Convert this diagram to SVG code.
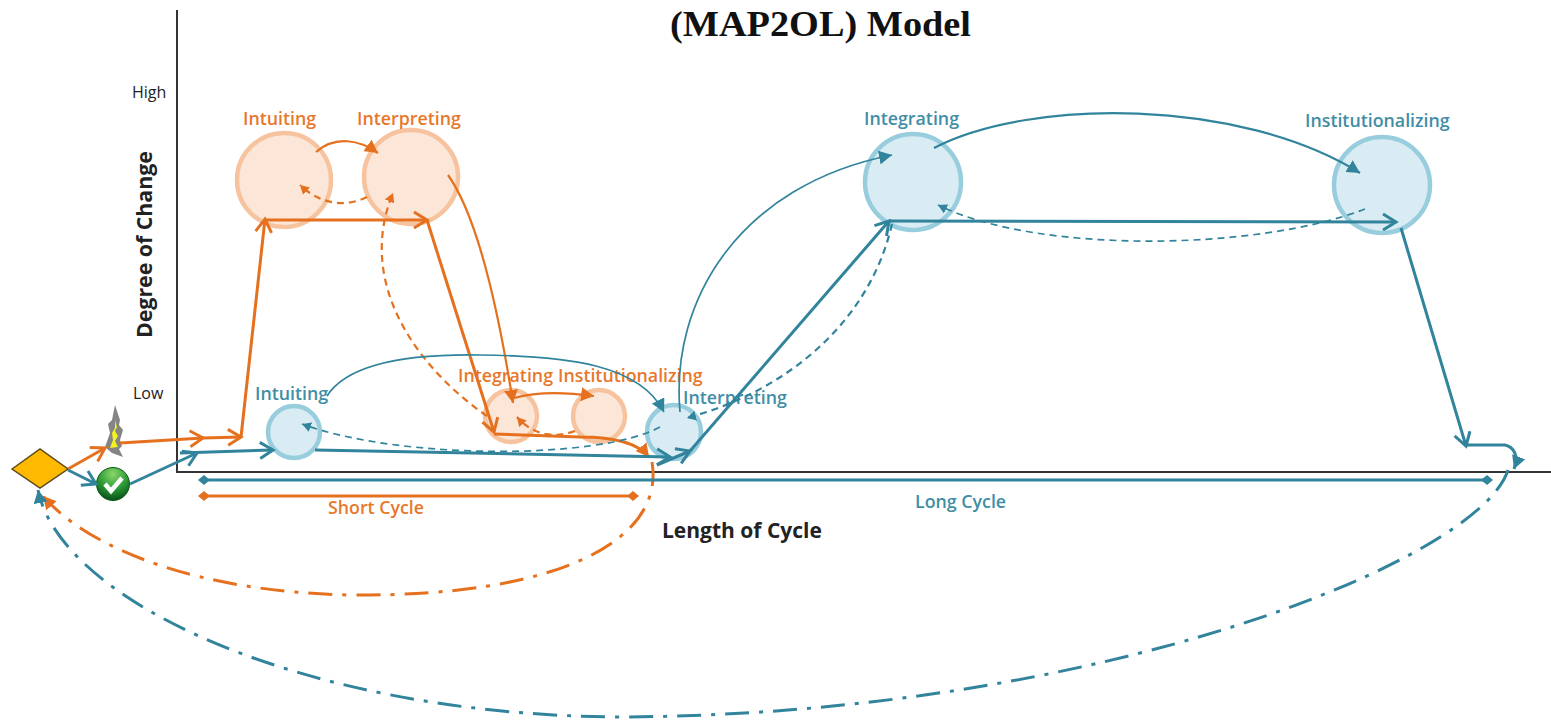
<svg xmlns="http://www.w3.org/2000/svg" width="1551" height="720" viewBox="0 0 1551 720">
<style>
text{font-family:"Open Sans","Noto Sans","Liberation Sans",sans-serif;font-weight:600}
.o{fill:#e7782b}.t{fill:#3f8ea6}.k{fill:#222}
.lbl{font-size:17.800px}
.co{fill:#fbe6d8;stroke:#f6c39e;stroke-width:4.500}
.cb{fill:#d9ecf3;stroke:#98cddd;stroke-width:4.500}
#connectors path{fill:none;stroke-linecap:butt;stroke-linejoin:round}
.so{stroke:#e5711f}.st{stroke:#31849b}
.w3{stroke-width:3}.w2{stroke-width:2.200}.w15{stroke-width:1.700}
.d{stroke-dasharray:7 5}.dd{stroke-dasharray:24 10 4 10;stroke-width:3}
</style>
<defs>
<marker id="oa" markerWidth="18" markerHeight="20" refX="15" refY="10" orient="auto" markerUnits="userSpaceOnUse"><path d="M2 2 L15 10 L2 18" fill="none" stroke="#e5711f" stroke-width="3"/></marker>
<marker id="ta" markerWidth="18" markerHeight="20" refX="15" refY="10" orient="auto" markerUnits="userSpaceOnUse"><path d="M2 2 L15 10 L2 18" fill="none" stroke="#31849b" stroke-width="3"/></marker>
<marker id="of" markerWidth="14" markerHeight="14" refX="13" refY="7" orient="auto" markerUnits="userSpaceOnUse"><path d="M0 0 L13 7 L0 14 Z" fill="#e5711f"/></marker>
<marker id="tf" markerWidth="14" markerHeight="14" refX="13" refY="7" orient="auto" markerUnits="userSpaceOnUse"><path d="M0 0 L13 7 L0 14 Z" fill="#31849b"/></marker>
<marker id="ofs" markerWidth="10" markerHeight="10" refX="9" refY="5" orient="auto" markerUnits="userSpaceOnUse"><path d="M0 0 L9 5 L0 10 Z" fill="#e5711f"/></marker>
<marker id="tfs" markerWidth="10" markerHeight="10" refX="9" refY="5" orient="auto" markerUnits="userSpaceOnUse"><path d="M0 0 L9 5 L0 10 Z" fill="#31849b"/></marker>
<marker id="od" markerWidth="12" markerHeight="12" refX="6" refY="6" orient="auto" markerUnits="userSpaceOnUse"><path d="M0 6 L6 1 L12 6 L6 11 Z" fill="#e5711f"/></marker>
<marker id="td" markerWidth="12" markerHeight="12" refX="6" refY="6" orient="auto" markerUnits="userSpaceOnUse"><path d="M0 6 L6 1 L12 6 L6 11 Z" fill="#31849b"/></marker>
<radialGradient id="g" cx="50%" cy="20%" r="75%"><stop offset="0" stop-color="#8ad66a"/><stop offset="0.6" stop-color="#2a9a36"/><stop offset="1" stop-color="#0c5a1c"/></radialGradient>
</defs>
<text x="670" y="36" textLength="301" lengthAdjust="spacingAndGlyphs" style="font-family:'Liberation Serif',serif;font-weight:700;font-size:35px" fill="#111">(MAP2OL) Model</text>
<g id="axes" fill="none" stroke="#333" stroke-width="2">
<path d="M177 10 V472 H1551"/>
</g>
<text class="k" x="132" y="98" style="font-size:16px;font-weight:400">High</text>
<text class="k" x="133" y="399" style="font-size:16px;font-weight:400">Low</text>
<text class="k" transform="translate(152 338) rotate(-90)" style="font-size:21.300px;font-weight:700">Degree of Change</text>
<text class="k" x="662" y="538" style="font-size:21px;font-weight:700">Length of Cycle</text>

<g id="node-o-intuiting-high"><circle class="co" cx="284" cy="180" r="47"/><text class="o lbl" x="243" y="125">Intuiting</text></g>
<g id="node-o-interpreting-high"><circle class="co" cx="411" cy="177" r="47"/><text class="o lbl" x="357" y="125">Interpreting</text></g>
<g id="node-o-integrating-low"><circle class="co" cx="511" cy="416" r="26"/><text class="o lbl" x="458" y="382">Integrating</text></g>
<g id="node-o-institutionalizing-low"><circle class="co" cx="599" cy="416" r="26"/><text class="o lbl" x="558" y="382">Institutionalizing</text></g>
<g id="node-b-intuiting-low"><circle class="cb" cx="294" cy="432" r="26"/><text class="t lbl" x="255" y="400">Intuiting</text></g>
<g id="node-b-interpreting-low"><circle class="cb" cx="674" cy="432" r="27"/><text class="t lbl" x="683" y="404">Interpreting</text></g>
<g id="node-b-integrating-high"><circle class="cb" cx="913" cy="182" r="48"/><text class="t lbl" x="864" y="125">Integrating</text></g>
<g id="node-b-institutionalizing-high"><circle class="cb" cx="1382" cy="185" r="48"/><text class="t lbl" x="1305" y="127">Institutionalizing</text></g>

<g id="node-decision"><path d="M12 469 L40 449 L68 469 L40 488 Z" fill="#ffb900" stroke="#5c4a1a" stroke-width="1.500"/></g>
<g id="node-lightning"><path d="M115 405 L120 420 L119 425 L123 430 L120 440 L122 446 L119 449 L123 457 L112 453 L105 447 L110 433 L108 424 L112 420 Z" fill="#858585"/><path d="M115 420 L117 427 L115 431 L118 436 L115 441 L118 447 L110 448 L113 440 L112 433 L115 428 Z" fill="#f5f01e"/></g>
<g id="node-check"><circle cx="113" cy="484" r="16.500" fill="url(#g)" stroke="#0c5a18" stroke-width="1"/><path d="M105 484 L111 491 L122 478" fill="none" stroke="#fff" stroke-width="4.500"/></g>

<g id="connectors">
<path class="so w3" marker-end="url(#oa)" d="M68 469 L105 448"/>
<path class="so w3" marker-end="url(#oa)" d="M120 443 L203 438"/>
<path class="so w3" marker-end="url(#oa)" d="M203 438 L241 437"/>
<path class="so w3" marker-end="url(#oa)" d="M241 437 L265 219"/>
<path class="so w3" marker-end="url(#oa)" d="M265 220 L427 220"/>
<path class="so w3" marker-end="url(#oa)" d="M427 220 L494 432"/>
<path class="so w3" marker-end="url(#of)" d="M494 434 L580 437 C615 437 638 443 649 457"/>
<path class="so w2" marker-end="url(#of)" d="M316 152 C335 135 360 140 378 153"/>
<path class="so w2 d" marker-end="url(#ofs)" d="M367 197 C345 208 320 204 300 185"/>
<path class="so w2" marker-end="url(#of)" d="M448 175 C480 220 500 320 513 403"/>
<path class="so w2" marker-end="url(#of)" d="M514 398 C535 392 565 392 594 396"/>
<path class="so w2 d" marker-end="url(#ofs)" d="M575 431 C550 440 530 432 517 417"/>
<path class="so w2 d" marker-end="url(#ofs)" d="M487 416 C420 370 355 285 393 193"/>
<path class="so dd" marker-end="url(#of)" d="M652 462 C665 540 560 597 350 595 C200 592 90 550 43 496"/>

<path class="st w3" style="marker-end:url(#ta)" d="M68 470 L96 484"/>
<path class="st w3" style="marker-end:url(#ta)" d="M130 484 L197 453"/>
<path class="st w3" style="marker-end:url(#ta)" d="M180 453 L273 450"/>
<path class="st w3" style="marker-end:url(#ta)" d="M315 450 L670 457"/>
<path class="st w3" style="marker-end:url(#ta)" d="M657 465 L690 451"/>
<path class="st w3" style="marker-end:url(#ta)" d="M690 451 L889 221"/>
<path class="st w3" style="marker-end:url(#ta)" d="M889 221 L1396 222"/>
<path class="st w3" style="marker-end:url(#ta)" d="M1401 228 L1466 446"/>
<path class="st w3" marker-end="url(#tf)" d="M1467 445 H1505 C1514 447 1519 456 1514 469"/>
<path class="st w15" marker-end="url(#tf)" d="M327 396 C350 360 420 354 480 355 C570 356 640 365 664 412"/>
<path class="st w15" marker-end="url(#tf)" d="M680 412 C670 300 740 185 892 155"/>
<path class="st w2" marker-end="url(#tf)" d="M934 148 C1030 98 1240 98 1360 173"/>
<path class="st w15 d" marker-end="url(#tfs)" d="M1365 209 C1260 250 1040 255 938 205"/>
<path class="st w2 d" marker-end="url(#tfs)" d="M892 224 C870 320 790 390 687 418"/>
<path class="st w15 d" marker-end="url(#tfs)" d="M660 427 C600 460 400 460 302 424"/>
<path class="st dd" marker-end="url(#tf)" d="M1508 470 C1480 560 1100 715 620 717 C300 715 60 600 38 490"/>

<path class="st w3" marker-start="url(#td)" marker-end="url(#td)" d="M204 480 H1487"/>
<path class="so w3" marker-start="url(#od)" marker-end="url(#od)" d="M204 496 H633"/>
</g>
<text class="o lbl" x="328" y="514">Short Cycle</text>
<text class="t lbl" x="915" y="508">Long Cycle</text>
</svg>
